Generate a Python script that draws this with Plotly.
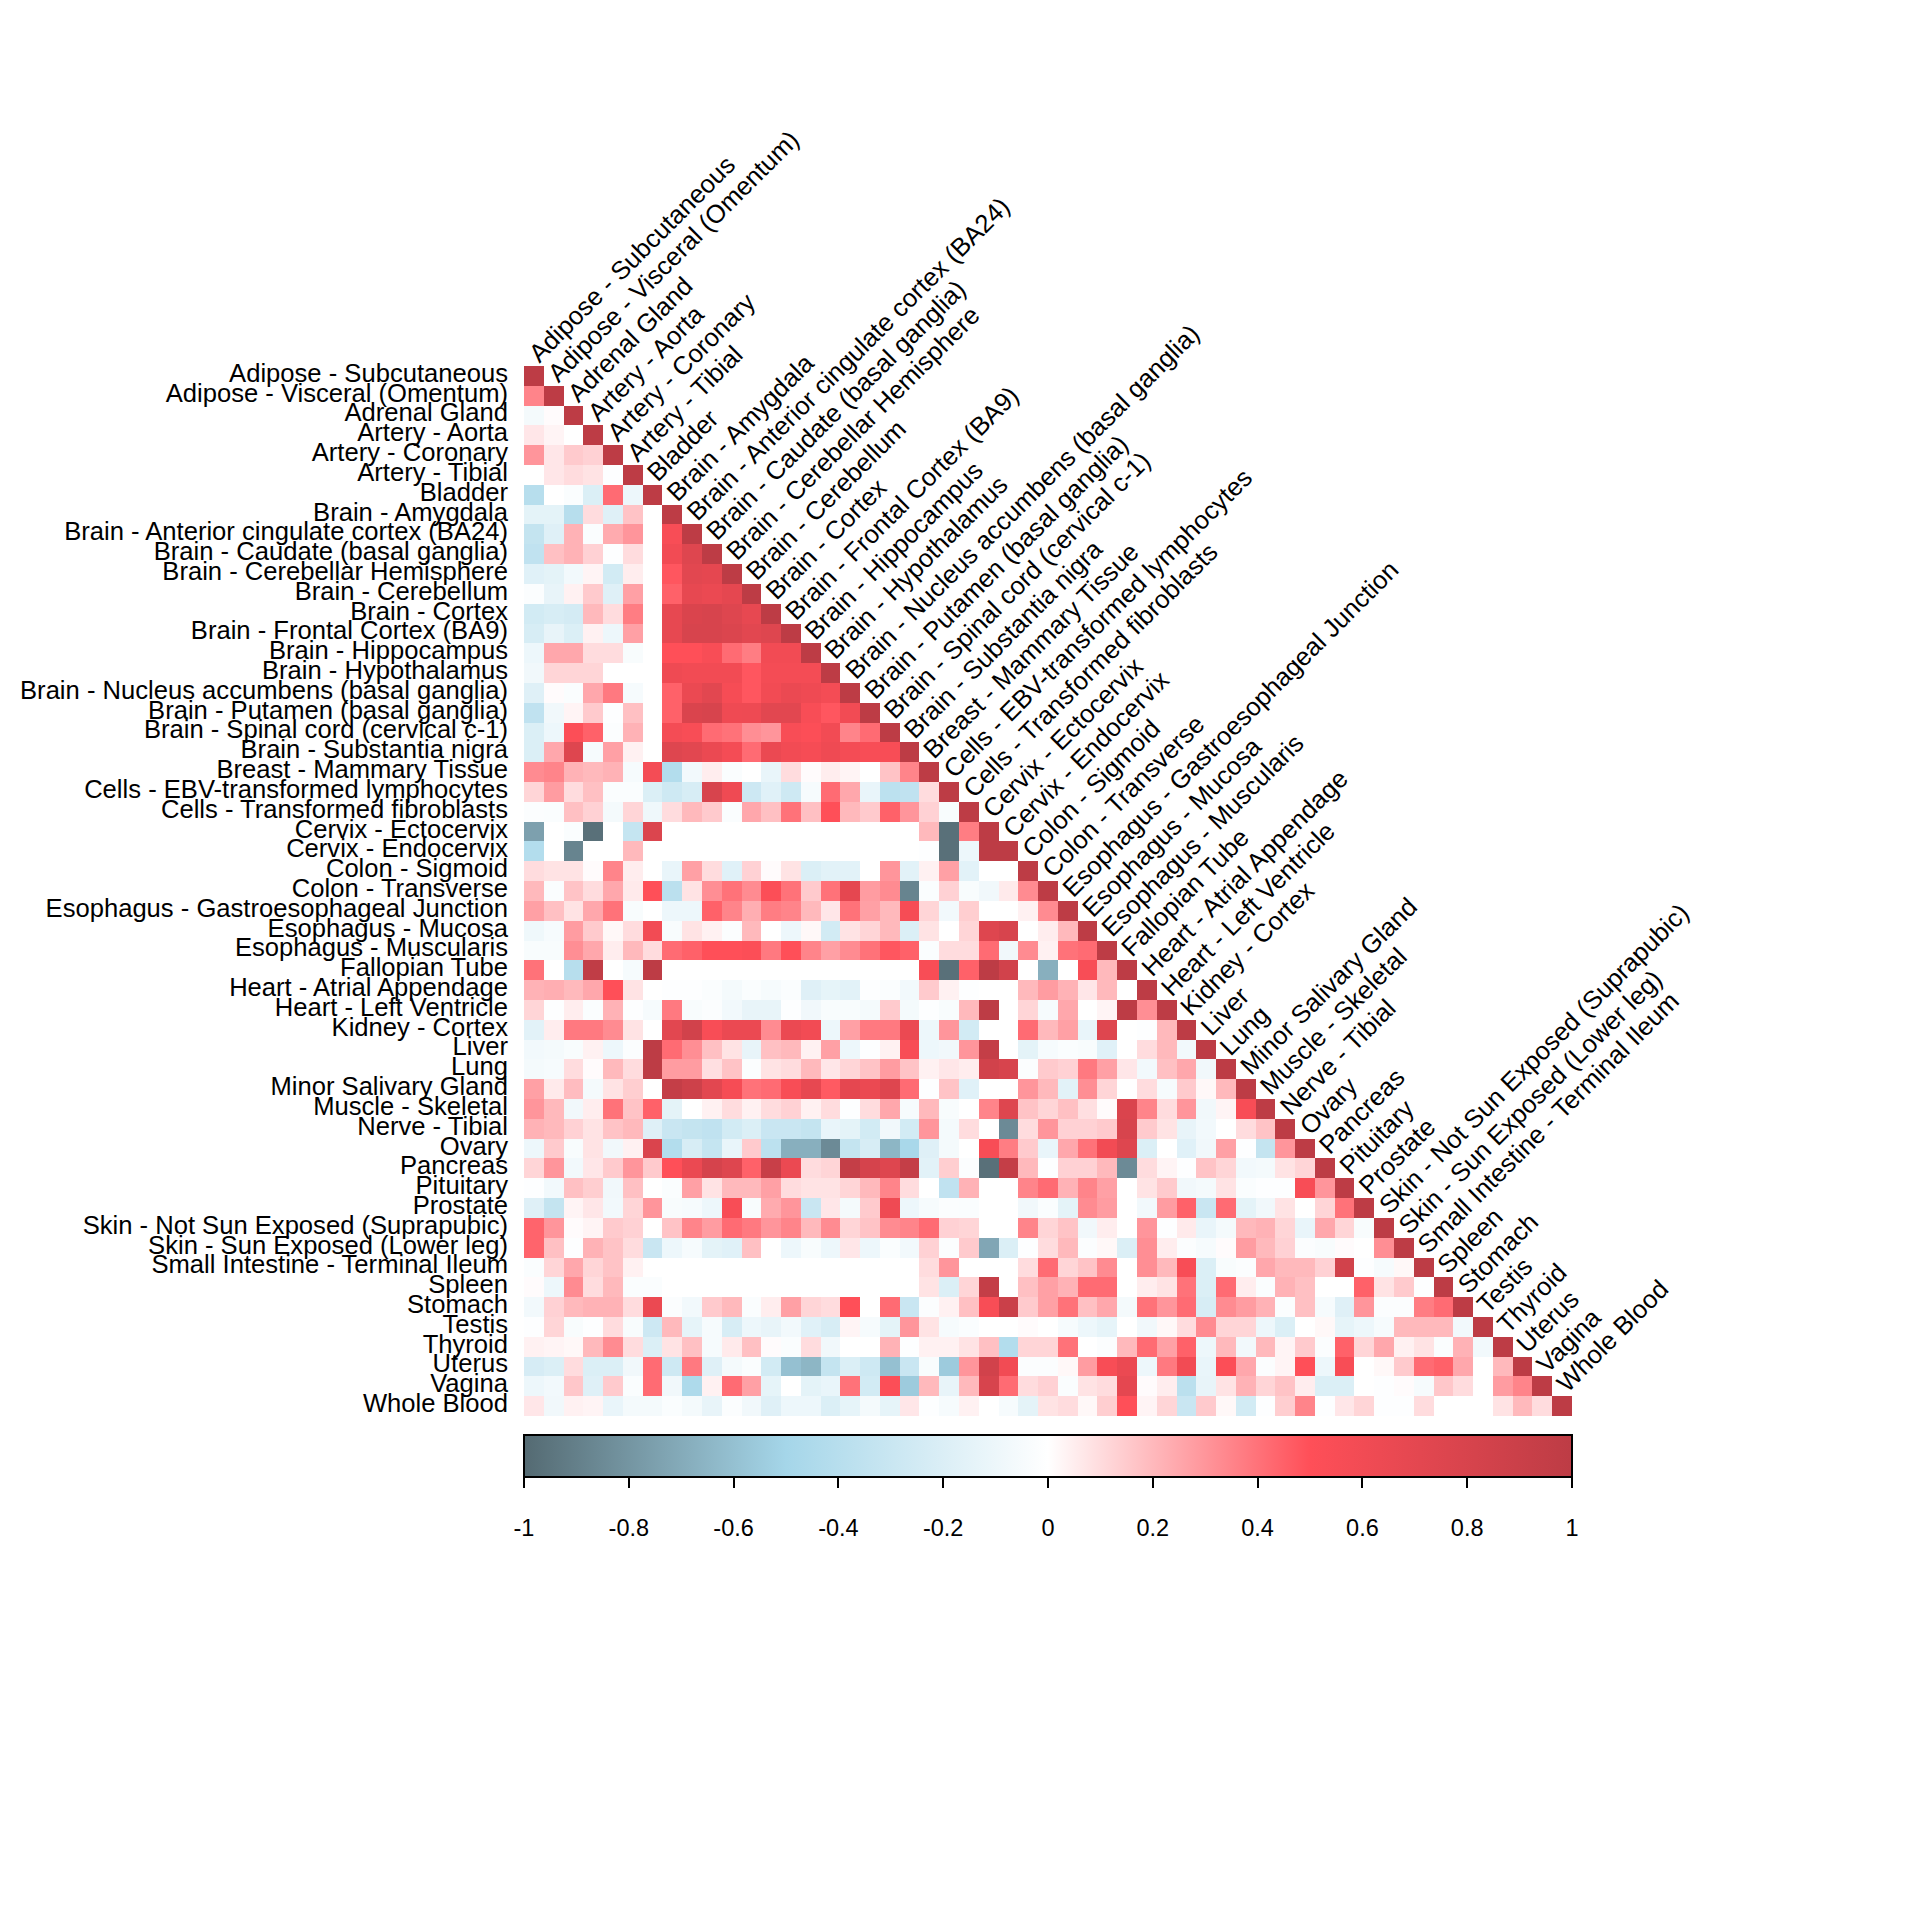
import plotly.graph_objects as go

tissues = ["Adipose - Subcutaneous","Adipose - Visceral (Omentum)","Adrenal Gland","Artery - Aorta","Artery - Coronary","Artery - Tibial","Bladder",
"Brain - Amygdala","Brain - Anterior cingulate cortex (BA24)","Brain - Caudate (basal ganglia)","Brain - Cerebellar Hemisphere","Brain - Cerebellum","Brain - Cortex","Brain - Frontal Cortex (BA9)","Brain - Hippocampus","Brain - Hypothalamus","Brain - Nucleus accumbens (basal ganglia)","Brain - Putamen (basal ganglia)","Brain - Spinal cord (cervical c-1)","Brain - Substantia nigra",
"Breast - Mammary Tissue","Cells - EBV-transformed lymphocytes","Cells - Transformed fibroblasts","Cervix - Ectocervix","Cervix - Endocervix","Colon - Sigmoid","Colon - Transverse","Esophagus - Gastroesophageal Junction","Esophagus - Mucosa","Esophagus - Muscularis","Fallopian Tube","Heart - Atrial Appendage","Heart - Left Ventricle","Kidney - Cortex","Liver","Lung","Minor Salivary Gland","Muscle - Skeletal","Nerve - Tibial","Ovary","Pancreas","Pituitary","Prostate","Skin - Not Sun Exposed (Suprapubic)","Skin - Sun Exposed (Lower leg)","Small Intestine - Terminal Ileum","Spleen","Stomach","Testis","Thyroid","Uterus","Vagina","Whole Blood"]

NA = [None]*13
r00 = []
r01 = [.35]
r02 = [-.06,.01]
r03 = [.07,.03,0]
r04 = [.3,.07,.15,.13]
r05 = [0,.07,.1,.08,-.01]
r06 = [-.4,0,-.03,-.2,.42,-.1]
r07 = [-.15,-.15,-.4,.1,-.18,.17,None]
r08 = [-.33,-.18,.22,-.03,.24,.3,None,.55]
r09 = [-.35,.18,.22,.13,-.01,.1,None,.6,.75]
r10 = [-.17,-.15,-.07,.03,-.25,.05,None,.48,.72,.7]
r11 = [-.02,-.13,.04,.15,-.18,.27,None,.45,.68,.65,.7]
r12 = [-.25,-.22,-.24,.2,.1,.37,None,.68,.78,.8,.75,.68]
r13 = [-.22,-.13,-.2,.04,-.1,.27,None,.68,.8,.8,.77,.72,.75]
r14 = [-.1,.25,.25,.1,.1,-.04,None,.5,.5,.55,.42,.37,.6,.6]
r15 = [-.08,.12,.12,.12,0,0,None,.62,.6,.6,.6,.48,.58,.58,.58]
r16 = [-.18,.01,-.03,.25,.38,-.05,None,.45,.65,.72,.57,.48,.6,.65,.62,.58]
r17 = [-.35,-.08,.03,.15,-.01,.18,None,.45,.78,.8,.62,.63,.72,.72,.55,.48,.6]
r18 = [-.2,-.1,.52,.45,-.02,.22,None,.58,.55,.42,.4,.32,.3,.55,.52,.6,.35,.42]
r19 = [-.2,.25,.75,-.05,.27,.04,None,.75,.72,.65,.58,.42,.65,.6,.57,.62,.58,.55,.55]
r20 = [.33,.35,.22,.2,.22,-.05,.58,-.42,-.07,.05,-.03,0,-.12,.1,.01,.05,.03,0,.17,.35]
r21 = [.12,.28,.1,.18,-.03,-.03,-.2,-.27,-.22,.8,.62,-.28,-.17,-.27,-.05,.42,.25,-.12,-.37,-.35,.1]
r22 = [-.02,-.03,.18,.13,-.06,.12,-.09,.1,.2,.15,-.03,.25,.18,.4,.18,.5,.2,.15,.45,.3,.13,-.04]
r23 = [-.75,0,-.03,-.97,0,-.32,.77]+NA+[.2,-.97,.37]
r24 = [-.42,0,-.88,0,0,.2,0]+NA+[-.01,-.97,-.1,1]
r25 = [.1,.08,.08,.01,.35,.05,0,-.12,.27,.1,-.17,.13,.01,.08,-.2,-.16,-.16,0,.3,-.16,.04,.27,-.16,0,0]
r26 = [.2,-.03,.17,.1,.25,.06,.5,-.38,.08,.32,.4,.33,.52,.4,.15,.4,.7,.28,.33,-.88,-.03,.13,-.04,-.08,.06,.33]
r27 = [.27,.18,.08,.25,.4,-.04,0,-.1,-.1,.45,.35,.23,.37,.35,.2,.07,.4,.27,.2,.57,.12,-.07,.14,0,0,.04,.33]
r28 = [-.09,-.05,.28,.15,.02,.1,.6,-.04,.08,.04,-.02,.2,0,-.1,.02,-.25,.08,.12,.2,-.2,.08,0,.12,.75,.8,0,.05,.2]
r29 = [-.04,-.04,.32,.25,.05,.2,.1,.42,.45,.5,.5,.52,.38,.5,.35,.27,.33,.4,.48,.45,-.03,.1,.1,.42,-.08,.33,.04,.4,.42]
r30 = [.4,0,-.4,.98,0,-.05,1]+NA+[.55,-.97,.45,1,.85,0,-.68,0,.55,.2]
r31 = [.22,.23,.2,.25,.5,.08,0,-.01,-.01,-.03,-.06,-.03,-.05,-.03,-.18,-.14,-.16,-.01,-.03,-.07,.15,.04,-.01,0,0,.2,.28,.22,.07,.2,0]
r32 = [.12,-.01,.05,-.03,.22,-.01,-.05,.38,-.04,-.02,-.07,-.13,-.13,-.01,-.08,-.04,-.04,-.06,.15,-.06,-.01,-.04,.2,1,0,.12,-.05,.25,0,.03,1,.32]
r33 = [-.16,.05,.38,.38,.33,.08,0,.72,.85,.55,.65,.65,.33,.65,.6,-.1,.27,.38,.38,.65,-.1,.3,-.25,0,0,.42,.2,.27,-.12,.75,0,-.01,.2]
r34 = [-.07,-.06,-.04,.04,-.1,-.02,1,.42,.32,.18,.08,-.13,.18,.2,.04,.27,-.1,-.01,.04,.55,-.1,-.08,.3,.95,0,-.15,-.05,-.03,-.04,-.17,0,.1,.2,-.07]
r35 = [-.06,-.05,.1,.01,.2,.1,1,.28,.28,.09,.17,-.02,.08,.1,.2,.07,.12,.17,.28,.17,.04,.07,.05,.85,.8,-.02,.15,.13,.38,.27,.07,-.07,.18,.25,-.08]
r36 = [.27,.06,.19,-.06,.08,.14,0,.95,.88,.72,.57,.4,.42,.55,.68,.47,.7,.65,.75,.42,-.01,.17,-.17,0,0,.3,.2,-.16,.32,.12,0,.1,-.05,.15,.02,.2]
r37 = [.3,.2,-.08,.05,.4,.17,.45,-.15,0,.04,.1,.04,.1,.13,.04,.1,-.01,.1,.25,-.05,.2,-.04,0,.35,.75,.17,.12,.18,.09,.01,.78,.35,.1,.3,-.08,.03,.55]
r38 = [.22,.2,.13,.08,.17,.2,-.18,-.3,-.33,-.35,-.25,-.2,-.3,-.3,-.33,-.12,-.15,-.25,-.08,-.25,.3,-.06,.1,0,-.85,.1,.3,.13,.13,.15,.8,.15,.08,-.13,-.07,0,.1,.17]
r39 = [-.1,.15,-.04,.08,-.08,.04,.78,-.42,-.22,-.32,-.12,.15,-.37,-.68,-.68,-.85,-.33,-.22,-.65,-.48,-.18,-.06,0,.55,.37,.15,-.12,.25,.4,.6,.75,-.2,0,-.17,-.08,.27,-.01,-.33,.3]
r40 = [.12,.3,-.07,.07,.15,.3,.15,.5,.65,.82,.75,.45,.92,.65,.1,.12,.95,.82,.75,.95,-.16,.14,-.02,-.97,.95,.2,-.01,.13,.13,.2,-.85,.1,.03,-.01,.17,.12,-.07,-.06,.08,.12]
r41 = [-.01,-.07,.18,.14,-.08,.18,0,-.03,.27,.08,.2,.2,.27,.1,.08,.08,.12,.2,.35,.1,0,-.35,.22,0,0,.35,.42,.22,.35,.27,0,.08,.15,-.08,-.06,.08,-.03,-.01,-.01,.55,.3]
r42 = [-.18,-.33,.03,.07,-.07,.12,.3,-.04,-.05,-.1,.55,-.04,.24,.3,-.3,.07,-.06,.15,.62,-.1,-.05,-.02,-.03,0,0,-.08,-.03,-.15,.33,.28,0,-.07,.28,.45,-.3,.42,-.15,-.08,.08,0,.12,.4]
r43 = [.44,.3,.01,.03,.15,.13,0,.17,.35,.28,.42,.38,.3,.35,.2,.33,.12,.17,.33,.35,.42,.13,.12,0,0,.35,.12,.17,-.08,.05,0,.3,-.01,.06,-.12,-.06,.2,.22,.12,-.12,.25,.12,-.04]
r44 = [.44,.18,-.01,.22,.17,.1,-.3,-.1,-.05,-.15,-.17,.18,0,-.1,-.04,-.1,.07,-.1,-.03,-.07,.13,-.02,.15,-.72,-.2,-.01,.1,.2,-.02,.02,-.2,.32,.05,-.02,-.05,.01,.28,.2,.13,-.02,-.04,.01,0,.32]
r45 = [-.03,.12,.25,.12,.17,.04,None]+NA+[.1,.3,0,0,0,.1,.42,.12,.17,.33,0,.32,.2,.55,-.2,-.04,-.02,.25,.2,.2,.13,.85,-.01,-.05,.02]
r46 = [.01,-.1,.33,.1,.2,-.03,-.03]+NA+[.08,-.2,.12,.95,0,.18,.27,.22,.42,.42,0,.05,.08,.4,-.2,.42,.05,-.03,.22,.18,0,0,.45,.08,.15,-.01]
r47 = [-.07,.13,.2,.22,.22,.1,.65,-.02,-.07,.15,.2,-.03,.05,.27,.12,.1,.5,0,.42,-.3,-.02,.04,.18,.55,.9,.15,.27,.4,.18,.25,-.06,.4,.3,.42,-.22,.33,.28,.22,-.02,.18,-.05,-.18,.3,-.02,-.02,.37,.42]
r48 = [-.01,.12,-.04,-.01,.1,-.04,-.28,.2,-.14,-.05,-.22,-.1,-.13,-.07,-.17,-.22,.03,-.05,-.15,.3,.08,-.05,-.03,0,0,.01,0,-.05,-.1,-.14,0,-.08,.02,.1,.33,.12,.12,-.1,-.2,0,.02,-.14,-.1,-.05,.2,.2,.2,-.07]
r49 = [.04,.03,.02,.2,.33,.1,-.2,.08,.18,-.05,.06,.18,.01,-.03,.1,-.08,0,0,.22,-.01,.04,.04,.08,.18,-.42,.12,.12,.4,0,-.02,.2,.42,.27,.45,-.1,.2,-.07,.2,.03,.15,-.02,.45,.12,.25,.04,.08,-.03,.22,-.07]
r50 = [-.23,-.2,.1,-.2,-.2,-.08,.42,-.27,.38,-.18,-.06,-.03,-.25,-.6,-.65,-.33,-.2,-.27,-.6,-.3,-.04,-.55,.3,.85,.6,-.02,-.02,.02,.28,.55,.65,-.1,.38,.6,-.12,.52,.25,-.02,.03,.5,-.1,.55,0,.02,.15,.42,.45,.25,0,.2]
r51 = [-.1,-.07,.16,-.18,.15,-.03,.42,-.08,-.45,.04,.42,.27,-.14,0,-.15,-.12,.4,-.25,.52,-.55,.2,-.13,.2,.8,.42,.1,.13,-.03,.08,.1,.7,.01,.05,-.38,-.13,.08,.22,.12,.17,.05,-.2,-.2,0,-.01,.01,-.05,.16,.1,0,.28,.35]
r52 = [.07,-.08,.04,.03,-.12,-.06,-.06,-.03,-.06,-.13,-.02,-.08,-.18,-.1,-.1,-.2,-.14,-.06,-.14,.07,-.01,-.05,.04,0,-.05,-.15,.08,.1,.02,.14,.5,.03,.12,-.3,.15,.02,-.25,-.01,.14,.35,-.01,.07,.12,-.01,-.01,.1,0,0,0,.08,.2,.1]

rows = [r00,r01,r02,r03,r04,r05,r06,r07,r08,r09,r10,r11,r12,r13,r14,r15,r16,r17,r18,r19,r20,r21,r22,r23,r24,r25,r26,r27,r28,r29,r30,r31,r32,r33,r34,r35,r36,r37,r38,r39,r40,r41,r42,r43,r44,r45,r46,r47,r48,r49,r50,r51,r52]
n = len(tissues)
z = []
for i, r in enumerate(rows):
    assert len(r) == i, (i, len(r))
    z.append(r + [1.0] + [None]*(n-i-1))

tick_vals = [-1,-.8,-.6,-.4,-.2,0,.2,.4,.6,.8,1]
tick_text = ["-1","-0.8","-0.6","-0.4","-0.2","0","0.2","0.4","0.6","0.8","1"]
colors = [[0,"#546a72"],[.25,"#a5d6e9"],[.5,"#ffffff"],[.75,"#ff4f58"],[1,"#bd3c45"]]
FONT = "Liberation Sans, Arial, sans-serif"

fig = go.Figure(go.Heatmap(
    z=z, x=tissues, y=tissues, zmin=-1, zmax=1, colorscale=colors, hoverongaps=False,
    colorbar=dict(orientation="h", thickness=42, len=1, lenmode="fraction", x=0.5, xanchor="center",
                  y=-0.018, yanchor="top", xpad=0, ypad=0, outlinecolor="black", outlinewidth=2,
                  ticks="outside", ticklen=10, tickwidth=1.5, tickcolor="black",
                  tickmode="array", tickvals=tick_vals,
                  ticktext=['<br><span style="font-size:23.5px">'+t+'</span>' for t in tick_text],
                  tickfont=dict(family=FONT, size=19.4, color="black"))))

annos = [dict(x=t, y=t, xref="x", yref="y", text=t, textangle=-45, showarrow=False,
              xanchor="left", yanchor="bottom", xshift=-14, yshift=6,
              font=dict(family=FONT, size=25.6, color="black")) for t in tissues]

fig.update_layout(width=1912, height=1912, paper_bgcolor="white", plot_bgcolor="white",
    margin=dict(l=516, r=348, t=358, b=504, autoexpand=False), annotations=annos, showlegend=False,
    xaxis=dict(type="category", range=[-0.5, n-0.5], autorange=False, showticklabels=False, ticks="", showgrid=False, zeroline=False, showline=False,
               categoryorder="array", categoryarray=tissues),
    yaxis=dict(type="category", range=[n-0.5, -0.5], autorange=False, ticks="", ticklabelstandoff=15, ticklabelshift=3, showgrid=False, zeroline=False, showline=False,
               categoryorder="array", categoryarray=tissues, dtick=1,
               tickfont=dict(family=FONT, size=25.6, color="black")))
fig.write_html("out.html")
